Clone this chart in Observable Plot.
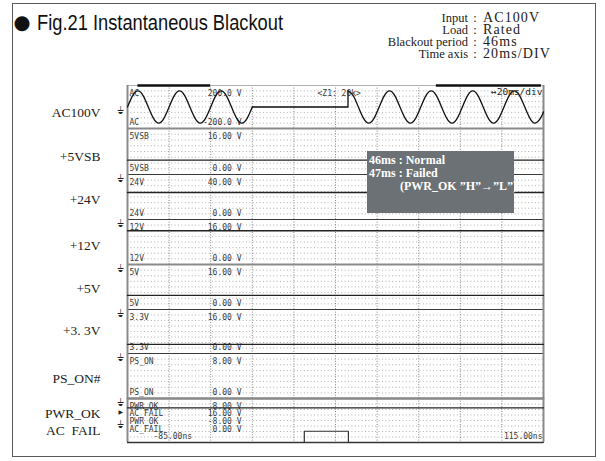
<!DOCTYPE html>
<html><head><meta charset="utf-8">
<script src="https://cdn.jsdelivr.net/npm/d3@7"></script>
<script src="https://cdn.jsdelivr.net/npm/@observablehq/plot@0.6"></script>
<style>
body{margin:0;width:605px;height:461px;position:relative;background:#fff;overflow:hidden;font-family:"Liberation Serif",serif;color:#222;}
#frame{position:absolute;left:12px;top:3px;width:584px;height:454px;box-sizing:border-box;border:1.5px solid #5a5a5a;}
.il,.ic,.iv{position:absolute;font-size:12.5px;line-height:12px;white-space:pre;}
.il{left:300px;width:168px;text-align:right;}
.ic{left:470px;width:10px;text-align:center;}
.iv{left:483px;font-size:14px;letter-spacing:1.1px;}
#stack{position:absolute;left:0;top:85px;}
#stack svg{display:block;}
#note{position:absolute;left:367px;top:151px;width:147px;height:62px;background:#6b7174;color:#fff;font:bold 12px "Liberation Serif",serif;line-height:13.3px;padding:2.5px 0 0 2px;box-sizing:border-box;white-space:pre;}
</style></head><body>
<div id="frame"></div>
<svg id="title" width="440" height="40" style="position:absolute;left:0;top:0">
<text x="13.5" y="28.8" font-family="DejaVu Sans" font-size="19.5" fill="#111">●</text>
<text x="37" y="30" font-family="'Liberation Sans Narrow','Liberation Sans',sans-serif" font-size="22" textLength="246" lengthAdjust="spacingAndGlyphs" fill="#111">Fig.21 Instantaneous Blackout</text>
</svg>
<div id="info"></div>
<div id="stack"></div>
<div id="note"><div>46ms : Normal</div><div>47ms : Failed</div><div style="padding-left:31px">(PWR_OK ”H”→”L”)</div></div>
<script>
// ---- data ----
const infoLabels = ["Input", "Load", "Blackout period", "Time axis"];
const infoValues = ["AC100V", "Rated", "46ms", "20ms/DIV"];

const timeDomain = [-85, 115];                 // ms
const gridTimes = [-65, -45, -25, -5, 15, 35, 55, 75, 95];
const timeLabels = ["-85.00ns", "115.00ns"];

const channelKeys = ["AC", "5VSB", "24V", "12V", "5V", "3.3V", "PS_ON"];
const sideLabels = ["AC100V", "+5VSB", "+24V", "+12V", "+5V", "+3. 3V", "PS_ON#"];
const rangeMin = [-200, 0, 0, 0, 0, 0, 0];
const rangeMax = [200, 16, 40, 16, 16, 16, 8];
const topLabels = ["200.0 V", "16.00 V", "40.00 V", "16.00 V", "16.00 V", "16.00 V", "8.00 V"];
const bottomLabels = ["-200.0 V", "0.00 V", "0.00 V", "0.00 V", "0.00 V", "0.00 V", "0.00 V"];
const dcLevels = [null, 5.0, 24.0, 12.0, 5.0, 3.3, 0.0];

// AC input waveform (V)
const acPreT = [-85,-82.5,-80,-77.5,-75,-72.5,-70,-67.5,-65,-62.5,-60,-57.5,-55,-52.5,-50,-47.5,-45,-42.5,-40,-37.5,-35,-32.5,-30,-27.5,-25];
const acPreV = [0,106,150,106,0,-106,-150,-106,0,106,150,106,0,-106,-150,-106,0,106,150,106,0,-106,-150,-106,0];
const acGapT = [-25, 21, 21];
const acGapV = [0, 0, 150];
const acPostT = [21,23.5,26,28.5,31,33.5,36,38.5,41,43.5,46,48.5,51,53.5,56,58.5,61,63.5,66,68.5,71,73.5,76,78.5,81,83.5,86,88.5,91,93.5,96,98.5,101,103.5,106,108.5,111,113.5,115];
const acPostV = [150,106,0,-106,-150,-106,0,106,150,106,0,-106,-150,-106,0,106,150,106,0,-106,-150,-106,0,106,150,106,0,-106,-150,-106,0,106,150,106,0,-106,-150,-106,-46];
const zoomBarStart = [-80, 63.5];
const zoomBarEnd = [-45, 114];

// bottom zone: PWR_OK (-8..8 V) and AC_FAIL (0..16 V)
const bottomNames = ["PWR_OK", "AC_FAIL", "PWR_OK", "AC_FAIL"];
const bottomValues = ["8.00 V", "16.00 V", "-8.00 V", "0.00 V"];
const bottomSide = ["PWR_OK", "AC\u00a0\u00a0FAIL"];
const pwrOkT = [-85, 115];
const pwrOkV = [4.6, 4.6];
const acFailT = [-85, 0, 0, 21.2, 21.2, 115];
const acFailV = [0, 0, 4.1, 4.1, 0, 0];

// ---- layout / style (not data) ----
const bandHeights = [43, 46, 45, 45, 45, 44, 45, 44];
const sepStyle = [["#b0b0b0", 1], ["#8a8a8a", 2], ["#3a3a3a", 1.2], ["#3a3a3a", 1.2], ["#8a8a8a", 2], ["#3a3a3a", 1.2], ["#3a3a3a", 1.2], ["#8a8a8a", 2]];
const sideDy = [6, 5.5, 3, 3.5, 1.5, -1, 3];
const W = 545, ML = 127, MR = 2;
const mono = {fontFamily: "DejaVu Sans Mono", fontSize: 8, fill: "#3a3a3a"};
const serif = {fontFamily: "Liberation Serif", fontSize: 13.5, fill: "#222"};

// info block
const info = document.getElementById("info");
infoLabels.forEach((l, i) => {
  const top = 12 + i * 12;
  info.insertAdjacentHTML("beforeend",
    `<div class="il" style="top:${top}px">${l}</div><div class="ic" style="top:${top}px">:</div><div class="iv" style="top:${top}px">${infoValues[i]}</div>`);
});

function commonMarks(lo, hi, i) {
  const step = (hi - lo) / 8;
  return [
    Plot.ruleY(d3.range(1, 8).map(k => lo + k * step), {stroke: "#9a9a9a", strokeWidth: 0.8, strokeDasharray: "1,2.4"}),
    Plot.ruleX(gridTimes, {stroke: "#666", strokeWidth: 0.8, strokeDasharray: "1,1.6"}),
    Plot.ruleY([hi], {stroke: sepStyle[i][0], strokeWidth: sepStyle[i][1]}),
    Plot.ruleX(timeDomain, {stroke: "#8a8a8a", strokeWidth: 2})
  ];
}
function ground(v) {
  return Plot.text([v], {x: () => timeDomain[0], y: d => d, text: () => "⏚", dx: -7, dy: 0, lineAnchor: "top", fontFamily: "DejaVu Sans", fontSize: 10, fill: "#222"});
}
function bandPlot(lo, hi, h, marks) {
  return Plot.plot({
    width: W, height: h, marginLeft: ML, marginRight: MR, marginTop: 0, marginBottom: 0,
    x: {domain: timeDomain, axis: null},
    y: {domain: [lo, hi], axis: null},
    style: {background: "transparent", overflow: "visible"},
    marks
  });
}

const stack = document.getElementById("stack");
channelKeys.forEach((key, i) => {
  const lo = rangeMin[i], hi = rangeMax[i];
  const marks = [
    ...commonMarks(lo, hi, i),
    Plot.text([key], {frameAnchor: "top-left", dx: 2, dy: 5, textAnchor: "start", ...mono}),
    Plot.text([topLabels[i]], {frameAnchor: "top-left", dx: 114, dy: 5, textAnchor: "end", ...mono}),
    Plot.text([key], {frameAnchor: "bottom-left", dx: 2, dy: -3.5, textAnchor: "start", ...mono}),
    Plot.text([bottomLabels[i]], {frameAnchor: "bottom-left", dx: 114, dy: -3.5, textAnchor: "end", ...mono}),
    Plot.text([sideLabels[i]], {frameAnchor: "left", dx: -27, dy: sideDy[i], textAnchor: "end", ...serif}),
    ground(key === "AC" ? 0 : lo)
  ];
  if (key === "AC") {
    const pre = acPreT.map((t, j) => ({t, v: acPreV[j]}));
    const gap = acGapT.map((t, j) => ({t, v: acGapV[j]}));
    const post = acPostT.map((t, j) => ({t, v: acPostV[j]}));
    const bars = zoomBarStart.map((a, j) => ({a, b: zoomBarEnd[j]}));
    marks.push(
      Plot.ruleY(bars, {y: () => hi, x1: "a", x2: "b", stroke: "#111", strokeWidth: 2.5}),
      Plot.line(pre, {x: "t", y: "v", curve: "natural", stroke: "#111", strokeWidth: 1.3}),
      Plot.line(gap, {x: "t", y: "v", stroke: "#111", strokeWidth: 1.3}),
      Plot.line(post, {x: "t", y: "v", curve: "natural", stroke: "#111", strokeWidth: 1.3}),
      Plot.text(["<Z1: 20k>"], {frameAnchor: "top-left", dx: 190, dy: 4.5, textAnchor: "start", ...mono}),
      Plot.text(["↔20ms/div"], {frameAnchor: "top-right", dx: -1, dy: 3, textAnchor: "end", ...mono, fontSize: 9.5, fill: "#222"})
    );
  } else {
    marks.push(Plot.line(timeDomain.map(t => ({t, v: dcLevels[i]})), {x: "t", y: "v", stroke: key === "PS_ON" ? "#777" : "#222", strokeWidth: key === "PS_ON" ? 2 : 1.3}));
  }
  stack.appendChild(bandPlot(lo, hi, bandHeights[i], marks));
});

// bottom zone: PWR_OK scale with AC_FAIL overlaid on its own scale
const wrap = document.createElement("div");
wrap.style.position = "relative";
const hB = bandHeights[7];
const pwr = pwrOkT.map((t, j) => ({t, v: pwrOkV[j]}));
const bMarks = [
  ...commonMarks(-8, 8, 7),
  Plot.ruleY([-8], {stroke: "#3a3a3a", strokeWidth: 1.5}),
  Plot.line(pwr, {x: "t", y: "v", stroke: "#222", strokeWidth: 1.3}),
  ...bottomNames.map((n, j) => Plot.text([n], {frameAnchor: "top-left", dx: 2, dy: 4.5 + j * 7.8, textAnchor: "start", ...mono})),
  ...bottomValues.map((n, j) => Plot.text([n], {frameAnchor: "top-left", dx: 114, dy: 4.5 + j * 7.8, textAnchor: "end", ...mono})),
  Plot.text([timeLabels[0]], {frameAnchor: "bottom-left", dx: 26, dy: -3.5, textAnchor: "start", ...mono}),
  Plot.text([timeLabels[1]], {frameAnchor: "bottom-right", dx: -1, dy: -3.5, textAnchor: "end", ...mono}),
  Plot.text([bottomSide[0]], {frameAnchor: "left", dx: -27, dy: -7, textAnchor: "end", ...serif}),
  Plot.text([bottomSide[1]], {frameAnchor: "left", dx: -27, dy: 10, textAnchor: "end", ...serif}),
  Plot.text(["▶"], {frameAnchor: "left", dx: -9, dy: -8, fontFamily: "DejaVu Sans", fontSize: 6, fill: "#222"}),
  ground(0)
];
wrap.appendChild(bandPlot(-8, 8, hB, bMarks));
const fail = acFailT.map((t, j) => ({t, v: acFailV[j]}));
const failPlot = bandPlot(0, 16, hB, [Plot.line(fail, {x: "t", y: "v", stroke: "#333", strokeWidth: 1.2})]);
failPlot.style.position = "absolute";
failPlot.style.left = "0px";
failPlot.style.top = "0px";
wrap.appendChild(failPlot);
stack.appendChild(wrap);
</script>
</body></html>
